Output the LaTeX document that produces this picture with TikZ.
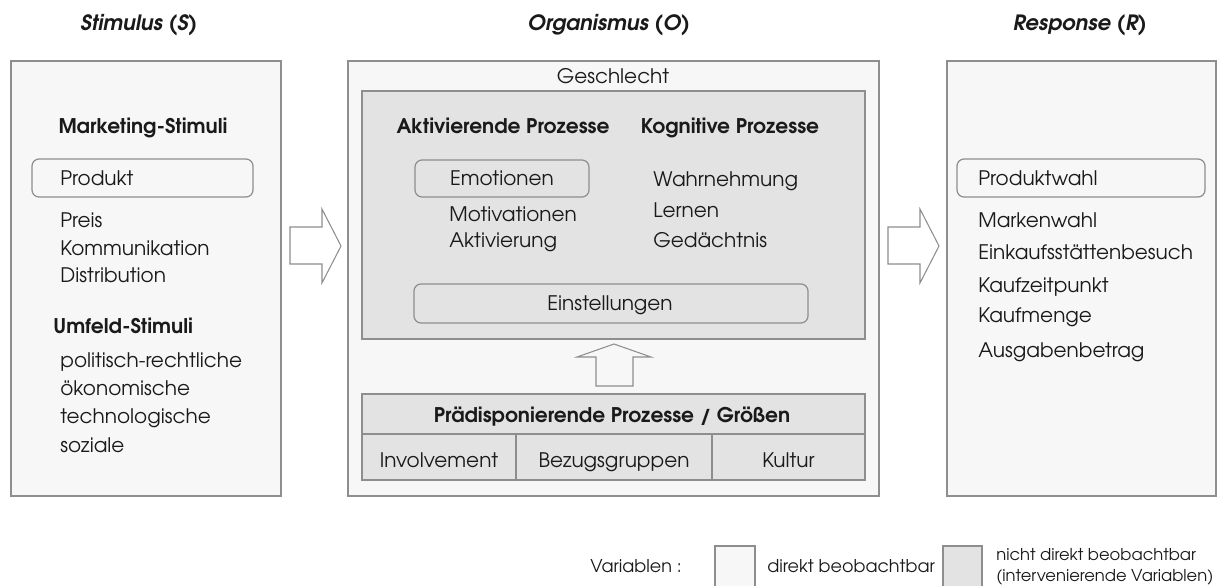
\documentclass[tikz,border=0pt]{standalone}
\usepackage{fontspec}
\setmainfont{TeX Gyre Adventor}
\usetikzlibrary{fit}
\definecolor{bordc}{HTML}{8E8E8E}
\definecolor{lightf}{HTML}{F7F7F7}
\definecolor{grayf}{HTML}{E3E3E3}
\definecolor{txtc}{HTML}{1A1A1A}
\tikzset{
  x=0.02cm, y=-0.02cm,
  box/.style={draw=bordc, line width=0.9pt, fill=lightf, inner sep=0pt},
  graybox/.style={draw=bordc, line width=0.9pt, fill=grayf, inner sep=0pt},
  rbox/.style={draw=bordc, line width=0.7pt, rounded corners=4pt, inner sep=0pt},
  blockarrow/.style={draw=bordc, line width=0.6pt, line join=miter},
  t/.style={font=\fontsize{11.4}{13}\selectfont, text=txtc, inner sep=0pt, anchor=base west},
  tc/.style={t, anchor=base},
  hb/.style={font=\fontsize{11.5}{13}\selectfont\bfseries, text=txtc, inner sep=0pt, anchor=base west},
  hbc/.style={hb, anchor=base},
  head/.style={font=\fontsize{12}{14}\selectfont\bfseries\itshape, text=txtc, inner sep=0pt, anchor=base},
  leg/.style={font=\fontsize{10}{12}\selectfont, text=txtc, inner sep=0pt, anchor=base west},
  legs/.style={leg, font=\fontsize{9.3}{11}\selectfont},
}
\begin{document}
\begin{tikzpicture}
\clip (0,0) rectangle (1217,585);
\fill[white] (0,0) rectangle (1217,585);

% headers
\node[head] (hS) at (139,30) {Stimulus (S)};
\node[head] (hO) at (609,30) {Organismus (O)};
\node[head] (hR) at (1080,30) {Response (R)};

% main boxes
\node[box, fit={(11,61) (281,496)}] (S) {};
\node[box, fit={(348,61) (879,496)}] (O) {};
\node[box, fit={(947,61) (1216,496)}] (R) {};

% ---- Stimulus content
\node[hbc] (ms) at (143,133) {Marketing-Stimuli};
\node[rbox, fit={(32,159) (253,197)}] (prodbox) {};
\node[t] (prod) at (60,185) {Produkt};
\node[t] (preis) at (60,227) {Preis};
\node[t] (komm) at (60,255) {Kommunikation};
\node[t] (dist) at (60,282) {Distribution};
\node[hb] (us) at (53,333) {Umfeld-Stimuli};
\node[t] (pol) at (60,367) {politisch-rechtliche};
\node[t] (oek) at (60,395) {ökonomische};
\node[t] (tech) at (60,423) {technologische};
\node[t] (soz) at (60,452) {soziale};

% ---- Organismus content
\node[tc] (geschl) at (613,83) {Geschlecht};
\node[graybox, fit={(362,91) (865,339)}] (inner) {};
\node[hbc] (akt) at (503,133) {Aktivierende Prozesse};
\node[hbc] (kog) at (730,133) {Kognitive Prozesse};
\node[rbox, fit={(415,160) (589,197)}] (emobox) {};
\node[tc] (emo) at (502,185) {Emotionen};
\node[t] (motiv) at (449,221) {Motivationen};
\node[t] (aktiv) at (449,247) {Aktivierung};
\node[t] (wahr) at (653,186) {Wahrnehmung};
\node[t] (lern) at (653,217) {Lernen};
\node[t] (ged) at (653,247) {Gedächtnis};
\node[rbox, fit={(414,284) (808,323)}] (einbox) {};
\node[tc] (ein) at (610,310) {Einstellungen};

\node[graybox, fit={(362,394) (865,434)}] (praehead) {};
\node[graybox, fit={(362,434) (516,480)}] (c1) {};
\node[graybox, fit={(516,434) (712,480)}] (c2) {};
\node[graybox, fit={(712,434) (865,480)}] (c3) {};
\node[hbc] (prae) at (612,422) {Prädisponierende Prozesse / Größen};
\node[tc] (inv) at (c1.center |- 0,467) {Involvement};
\node[tc] (bez) at (c2.center |- 0,467) {Bezugsgruppen};
\node[tc] (kul) at (c3.center |- 0,467) {Kultur};

% up arrow
\draw[blockarrow] (596,386) -- (596,357) -- (577,357) -- (614,344) -- (651,357) -- (633,357) -- (633,386) -- cycle;

% ---- Response content
\node[rbox, fit={(957,159) (1205,197)}] (pwbox) {};
\node[t] (pw) at (978,185) {Produktwahl};
\node[t] (mw) at (978,227) {Markenwahl};
\node[t] (eb) at (978,259) {Einkaufsstättenbesuch};
\node[t] (kz) at (978,292) {Kaufzeitpunkt};
\node[t] (km) at (978,322) {Kaufmenge};
\node[t] (ab) at (978,357) {Ausgabenbetrag};

% block arrows S->O, O->R
\draw[blockarrow, fill=white] (290,227) -- (322,227) -- (322,209) -- (341,246) -- (322,283) -- (322,264) -- (290,264) -- cycle;
\draw[blockarrow, fill=white] (888,227) -- (920,227) -- (920,209) -- (939,246) -- (920,283) -- (920,264) -- (888,264) -- cycle;

% legend
\node[leg, anchor=base] (var) at (636,572) {Variablen :};
\node[box, fit={(715,546) (755,600)}] (legw) {};
\node[leg] (dir) at (767,572) {direkt beobachtbar};
\node[graybox, fit={(943,546) (982,600)}] (legg) {};
\node[legs] (ndir) at (996,560) {nicht direkt beobachtbar};
\node[legs] (interv) at (996,581) {(intervenierende Variablen)};
\end{tikzpicture}
\end{document}
